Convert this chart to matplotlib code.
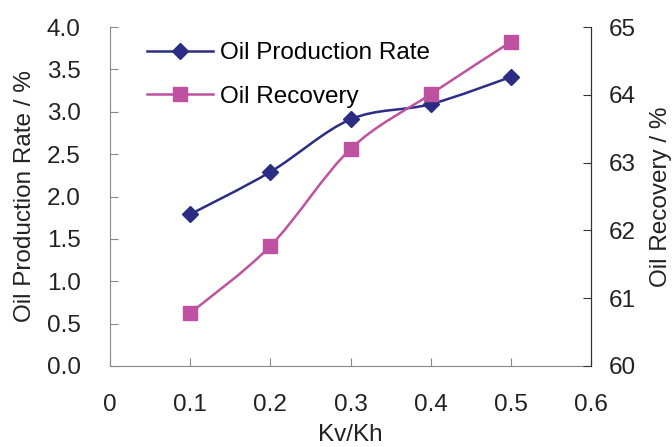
import numpy as np
import matplotlib
matplotlib.use('Agg')
import matplotlib.pyplot as plt
from matplotlib.path import Path
from matplotlib.patches import PathPatch
from matplotlib.lines import Line2D

plt.rcParams['font.family'] = ['Liberation Sans', 'DejaVu Sans']

# data
kv_kh = [0.1, 0.2, 0.3, 0.4, 0.5]
prod_rate = [1.79, 2.29, 2.91, 3.09, 3.41]   # %
recovery = [60.78, 61.77, 63.20, 64.01, 64.78]  # %

navy = '#2B2D84'
pink = '#BF52A0'
fs = 17.5


def smooth_path(xs, ys):
    # excel style smoothed line: cubic bezier through every point
    pts = np.column_stack([xs, ys])
    n = len(pts)
    verts = [pts[0]]
    codes = [Path.MOVETO]
    for i in range(n - 1):
        p_prev = pts[max(i - 1, 0)]
        p0 = pts[i]
        p1 = pts[i + 1]
        p_next = pts[min(i + 2, n - 1)]
        c1 = p0 + (p1 - p_prev) / 6.0
        c2 = p1 - (p_next - p0) / 6.0
        verts += [c1, c2, p1]
        codes += [Path.CURVE4] * 3
    return Path(verts, codes)


fig = plt.figure(figsize=(6.72, 4.47), dpi=100)
ax = fig.add_axes([110/672, 1 - 366/447, 481/672, 339/447])
ax2 = ax.twinx()

ax.add_patch(PathPatch(smooth_path(kv_kh, prod_rate), facecolor='none',
                       edgecolor=navy, lw=1.8, zorder=3))
ax.plot(kv_kh, prod_rate, linestyle='none', marker='D', ms=8,
        color=navy, zorder=4)

ax2.add_patch(PathPatch(smooth_path(kv_kh, recovery), facecolor='none',
                        edgecolor=pink, lw=1.8, zorder=3))
ax2.plot(kv_kh, recovery, linestyle='none', marker='s', ms=10,
         color=pink, zorder=4)

ax.set_xlim(0, 0.6)
ax.set_ylim(0, 4.0)
ax2.set_ylim(60, 65)
ax.set_xticks(np.arange(0, 0.61, 0.1))
ax.set_xticklabels(['0', '0.1', '0.2', '0.3', '0.4', '0.5', '0.6'])
ax.set_yticks(np.arange(0, 4.01, 0.5))
ax.set_yticklabels(['%.1f' % v for v in np.arange(0, 4.01, 0.5)])
ax2.set_yticks(range(60, 66))

for a in (ax, ax2):
    a.spines['top'].set_visible(False)
ax.spines['left'].set_color('#888888')
ax.spines['bottom'].set_color('#888888')
ax2.spines['left'].set_visible(False)
ax2.spines['bottom'].set_visible(False)
ax2.spines['right'].set_color('#333333')

ax.tick_params(axis='both', direction='in', length=6, color='#888888',
               labelsize=fs, labelcolor='#222222')
ax.tick_params(axis='y', pad=21)
ax.tick_params(axis='x', pad=20)
ax2.tick_params(axis='y', direction='in', length=6, color='#333333',
                labelsize=fs, labelcolor='#222222', pad=13)

ax.set_xlabel('Kv/Kh', fontsize=fs, color='#222222', labelpad=6)
ax.set_ylabel('Oil Production Rate / %', fontsize=fs, color='#222222', labelpad=8)
ax2.set_ylabel('Oil Recovery / %', fontsize=fs, color='#222222',
               rotation=90, labelpad=10)

handles = [Line2D([], [], color=navy, lw=1.8, marker='D', ms=8),
           Line2D([], [], color=pink, lw=1.8, marker='s', ms=10)]
ax2.legend(handles, ['Oil Production Rate', 'Oil Recovery'],
           loc='upper left', bbox_to_anchor=(147/672, 1 - 42/447),
           bbox_transform=fig.transFigure, frameon=False, fontsize=fs,
           borderpad=0, borderaxespad=0, handlelength=2.7,
           handletextpad=0.3, labelspacing=0.9)

fig.savefig('out.png', dpi=100)
